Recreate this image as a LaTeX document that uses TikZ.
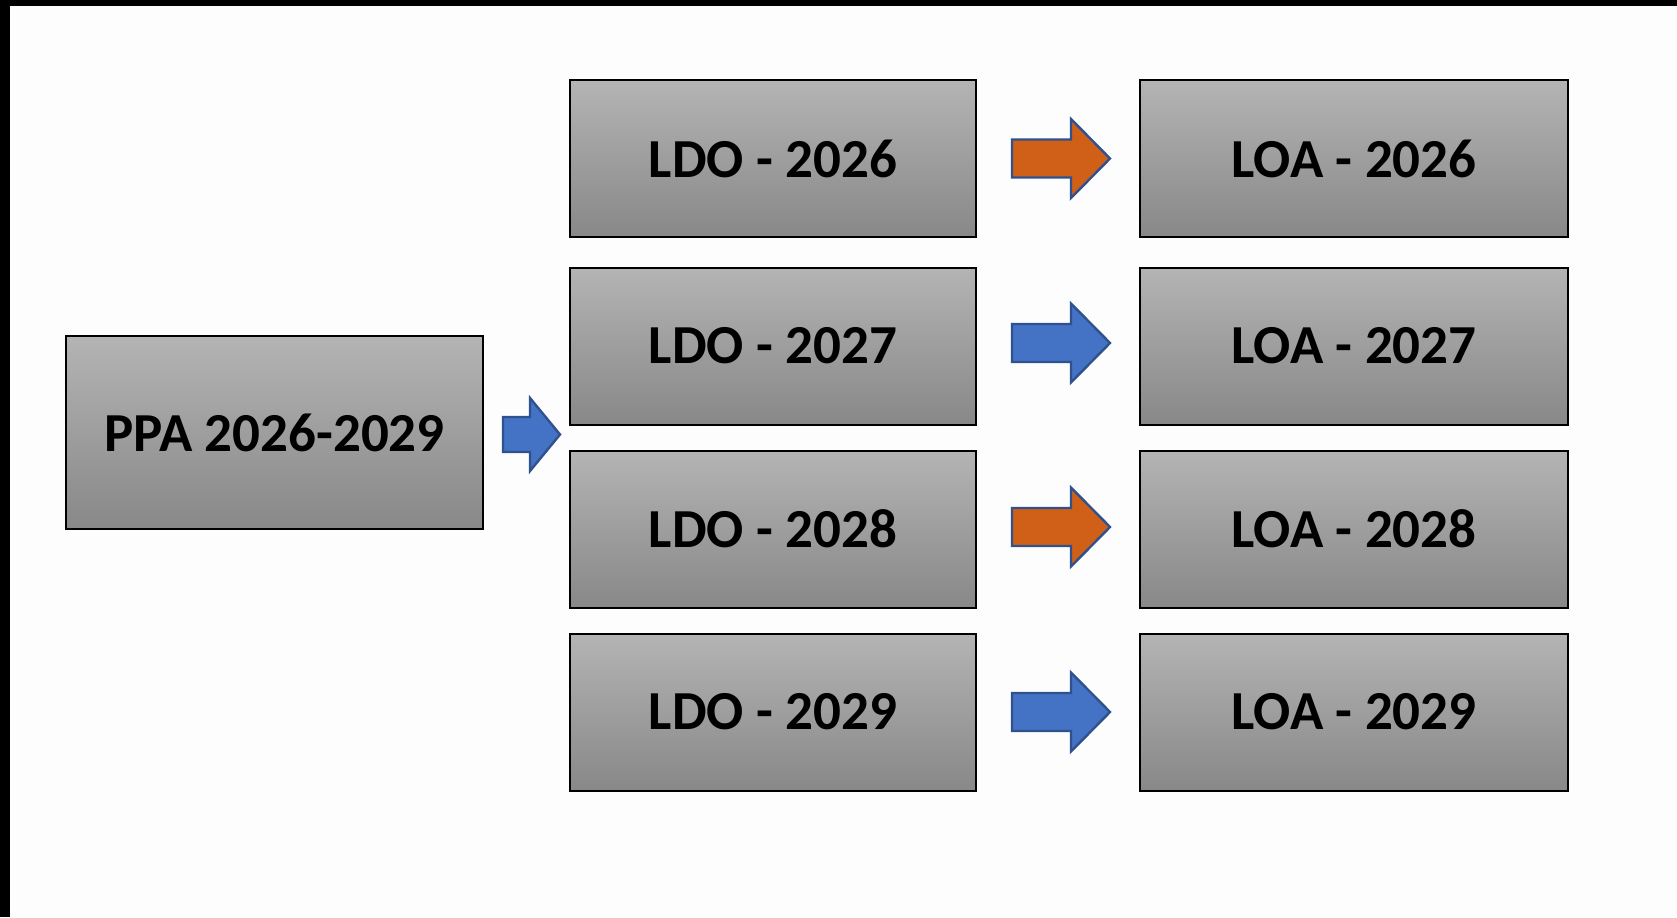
\documentclass[tikz,border=0pt]{standalone}
\usepackage{fontspec}
\setmainfont{Carlito}
\usetikzlibrary{calc}
\definecolor{boxtop}{RGB}{180,180,180}
\definecolor{boxbot}{RGB}{136,136,136}
\definecolor{arblue}{RGB}{68,114,196}
\definecolor{arorange}{RGB}{208,96,24}
\definecolor{aredge}{RGB}{47,82,143}
\definecolor{bg}{RGB}{253,253,253}
\tikzset{
  box/.style={rectangle, draw=black, line width=1pt, top color=boxtop, bottom color=boxbot,
    minimum height=78.5pt, inner sep=0pt, font=\fontsize{27.5}{33}\selectfont\bfseries},
  ldobox/.style={box, minimum width=203pt},
  loabox/.style={box, minimum width=214pt},
  ppabox/.style={box, minimum width=208.5pt, minimum height=96.5pt},
  bigarrow/.style={draw=aredge, line width=1.2pt, line join=miter},
}
\newcommand\rowarrow[2]{%
  \filldraw[bigarrow, fill=#2] ($(#1)+(0,-19)$) -- ++(59,0) -- ++(0,-20.5) -- ++(39,39.5)
    -- ++(-39,39.5) -- ++(0,-20.5) -- ++(-59,0) -- cycle;}
\begin{document}
\begin{tikzpicture}[x=0.5pt, y=-0.5pt]
\useasboundingbox (0,0) rectangle (1677,917);
\fill[bg] (0,0) rectangle (1677,917);
\fill[black] (0,0) rectangle (1677,6);
\fill[black] (0,0) rectangle (10,917);

\node[ppabox] (ppa) at (274.5,432.5) {PPA 2026-2029};

\node[ldobox] (ldo1) at (773,158.5) {LDO - 2026};
\node[ldobox] (ldo2) at (773,346) {LDO - 2027};
\node[ldobox] (ldo3) at (773,529) {LDO - 2028};
\node[ldobox] (ldo4) at (773,712) {LDO - 2029};

\node[loabox] (loa1) at (1354,158.5) {LOA - 2026};
\node[loabox] (loa2) at (1354,346) {LOA - 2027};
\node[loabox] (loa3) at (1354,529) {LOA - 2028};
\node[loabox] (loa4) at (1354,712) {LOA - 2029};

% PPA arrow
\coordinate (pa) at ($(ppa.east)+(19,2)$);
\filldraw[bigarrow, fill=arblue] ($(pa)+(0,-17.5)$) -- ++(27,0) -- ++(0,-19) -- ++(30,36.5)
  -- ++(-30,36.5) -- ++(0,-19) -- ++(-27,0) -- cycle;

% row arrows
\coordinate (a1) at ($(ldo1.east)+(35,0)$);
\coordinate (a2) at ($(ldo2.east)+(35,-3)$);
\coordinate (a3) at ($(ldo3.east)+(35,-2)$);
\coordinate (a4) at ($(ldo4.east)+(35,0)$);
\rowarrow{a1}{arorange}
\rowarrow{a2}{arblue}
\rowarrow{a3}{arorange}
\rowarrow{a4}{arblue}
\end{tikzpicture}
\end{document}
